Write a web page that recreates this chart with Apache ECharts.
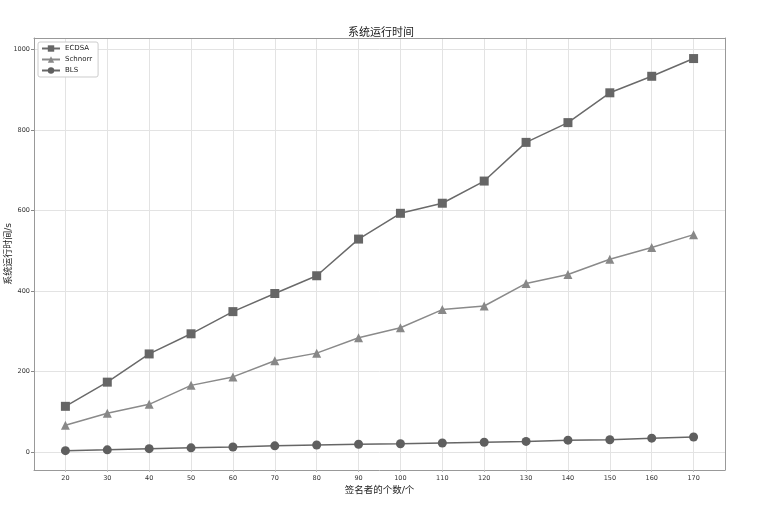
<!DOCTYPE html>
<html>
<head>
<meta charset="utf-8">
<script src="https://cdn.jsdelivr.net/npm/echarts@6/dist/echarts.min.js"></script>
<style>
  html, body { margin: 0; padding: 0; background: #fff; }
  #chart { width: 762px; height: 505px; }
</style>
</head>
<body>
<div id="chart"></div>
<script>
// signer counts (x axis)
const signers = [20, 30, 40, 50, 60, 70, 80, 90, 100, 110, 120, 130, 140, 150, 160, 170]
// run time in seconds
const ecdsa = [114, 174, 244, 294, 349, 394, 438, 529, 593, 618, 673, 769, 818, 892, 933, 977]
const schnorr = [67, 97, 119, 166, 187, 227, 246, 284, 309, 354, 363, 419, 441, 479, 508, 540]
const bls = [4, 6, 9, 11, 13, 16, 18, 20, 21, 23, 25, 27, 30, 31, 35, 38]
const yTicks = [0, 200, 400, 600, 800, 1000]

const cjk = '"DejaVu Sans", "Noto Sans CJK SC", sans-serif'
const pairs = vals => signers.map((x, i) => [x, vals[i]])
const spine = { show: true, onZero: false, lineStyle: { color: '#999', width: 1 } }

const chart = echarts.init(document.getElementById('chart'))

chart.setOption({
  animation: false,
  backgroundColor: '#fff',
  title: {
    text: '系统运行时间',
    left: 'center',
    top: 23,
    textStyle: { fontFamily: cjk, fontSize: 11, fontWeight: 'normal', color: '#222' }
  },
  legend: {
    orient: 'vertical',
    left: 38,
    top: 42,
    itemWidth: 18,
    itemHeight: 8,
    itemGap: 4,
    padding: [3, 6, 3, 3],
    backgroundColor: '#fff',
    borderColor: '#ccc',
    borderWidth: 1,
    borderRadius: 2,
    textStyle: { fontFamily: cjk, fontSize: 7, color: '#222' },
    data: ['ECDSA', 'Schnorr', 'BLS']
  },
  grid: { left: 34, right: 37, top: 38, bottom: 35, outerBoundsMode: 'none' },
  xAxis: [
    {
      type: 'value',
      min: 12.5,
      max: 177.5,
      name: '签名者的个数/个',
      nameLocation: 'middle',
      nameGap: 16,
      nameMoveOverlap: false,
      nameTextStyle: { fontFamily: cjk, fontSize: 9.5, color: '#222' },
      axisLine: spine,
      axisTick: { show: true, customValues: signers, length: 2, lineStyle: { color: '#bbb' } },
      axisLabel: { customValues: signers, fontFamily: cjk, fontSize: 6.5, color: '#333', margin: 5 },
      splitLine: { show: true, lineStyle: { color: '#e3e3e3', width: 1 } }
    },
    {
      // top spine only
      type: 'value',
      position: 'top',
      min: 12.5,
      max: 177.5,
      axisLine: spine,
      axisTick: { show: false },
      axisLabel: { show: false },
      splitLine: { show: false }
    }
  ],
  yAxis: [
    {
      type: 'value',
      min: -44,
      max: 1028,
      name: '系统运行时间/s',
      nameLocation: 'middle',
      nameGap: 21,
      nameMoveOverlap: false,
      nameTextStyle: { fontFamily: cjk, fontSize: 9, color: '#222' },
      axisLine: spine,
      axisTick: { show: true, customValues: yTicks, length: 3, lineStyle: { color: '#888' } },
      axisLabel: { customValues: yTicks, formatter: v => String(v), fontFamily: cjk, fontSize: 6.5, color: '#333', margin: 4 },
      splitLine: { show: true, lineStyle: { color: '#e3e3e3', width: 1 } }
    },
    {
      // right spine only
      type: 'value',
      position: 'right',
      min: -44,
      max: 1028,
      axisLine: spine,
      axisTick: { show: false },
      axisLabel: { show: false },
      splitLine: { show: false }
    }
  ],
  series: [
    {
      name: 'ECDSA',
      type: 'line',
      data: pairs(ecdsa),
      symbol: 'rect',
      symbolSize: 9,
      lineStyle: { color: '#6a6a6a', width: 1.5 },
      itemStyle: { color: '#666' }
    },
    {
      name: 'Schnorr',
      type: 'line',
      data: pairs(schnorr),
      symbol: 'triangle',
      symbolSize: 9,
      lineStyle: { color: '#8a8a8a', width: 1.5 },
      itemStyle: { color: '#888' }
    },
    {
      name: 'BLS',
      type: 'line',
      data: pairs(bls),
      symbol: 'circle',
      symbolSize: 9,
      lineStyle: { color: '#666', width: 1.5 },
      itemStyle: { color: '#5f5f5f' }
    }
  ]
})
</script>
</body>
</html>
